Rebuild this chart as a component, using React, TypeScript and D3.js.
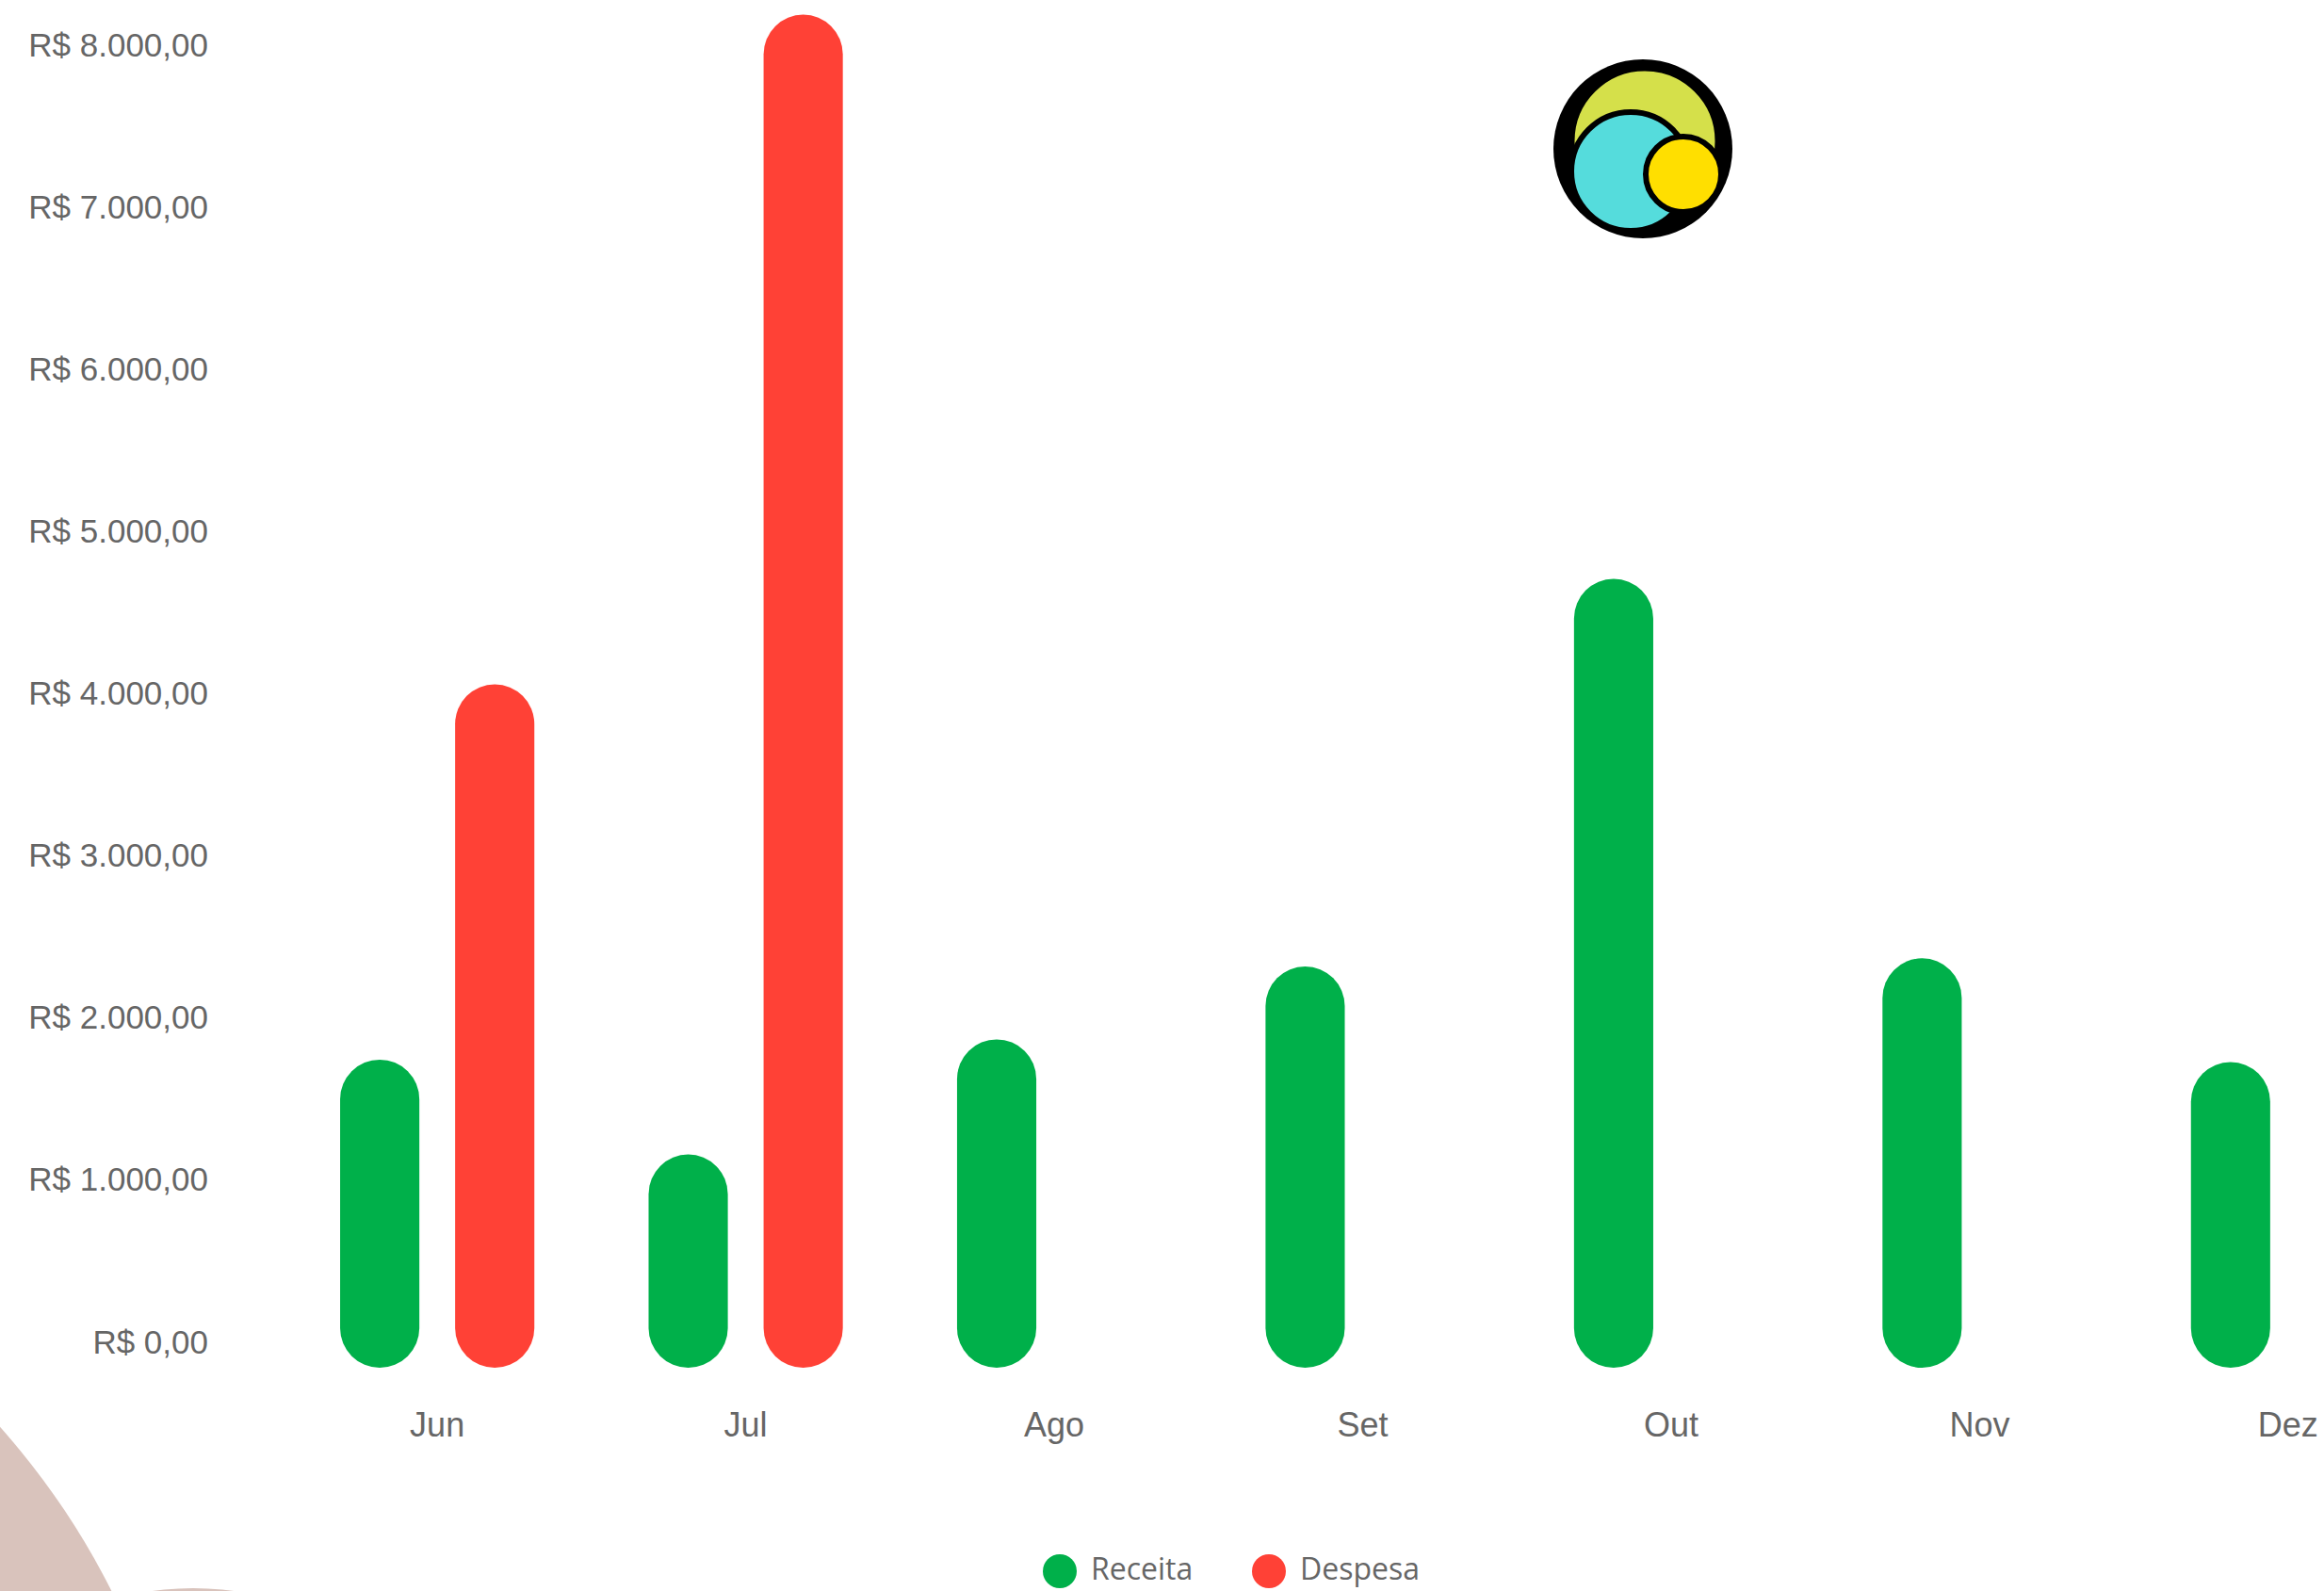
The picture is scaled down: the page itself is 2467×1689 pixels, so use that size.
import React, { useEffect } from "react";
import * as d3 from "d3";

const months = ["Jun", "Jul", "Ago", "Set", "Out", "Nov", "Dez"];
const seriesNames = ["Receita", "Despesa"];
const receita = [1575, 990, 1700, 2150, 4540, 2200, 1560];
const despesa = [3890, 8020, 0, 0, 0, 0, 0];
const yTicks = [0, 1000, 2000, 3000, 4000, 5000, 6000, 7000, 8000];
const seriesColors = ["#00b04a", "#ff4136"];

const W = 2467;
const H = 1689;

const brLocale = d3.formatLocale({
  decimal: ",",
  thousands: ".",
  grouping: [3],
  currency: ["R$ ", ""],
});
const fmt = brLocale.format("$,.2f");

export default function App() {
  useEffect(() => {
    document.body.style.margin = "0";
  }, []);

  const y = d3.scaleLinear().domain([0, 8000]).range([1424, 47]);
  const x = d3
    .scaleBand<string>()
    .domain(months)
    .range([342, 2551])
    .paddingInner(0.254)
    .paddingOuter(0);
  const xSub = d3
    .scaleBand<string>()
    .domain(seriesNames)
    .range([0, x.bandwidth()])
    .paddingInner(0.311)
    .paddingOuter(0.156);
  const bw = xSub.bandwidth();
  const r = bw / 2;
  const ext = 28;

  const values = [receita, despesa];
  const bars: { key: string; x: number; y: number; h: number; color: string }[] = [];
  seriesNames.forEach((s, si) => {
    months.forEach((m, mi) => {
      const v = values[si][mi];
      if (v > 0) {
        const top = y(v) - ext;
        const bottom = y(0) + ext;
        bars.push({
          key: s + m,
          x: (x(m) as number) + (xSub(s) as number),
          y: top,
          h: bottom - top,
          color: seriesColors[si],
        });
      }
    });
  });

  const textColor = "#666666";

  return (
    <svg
      width={W}
      height={H}
      style={{ position: "absolute", left: 0, top: 0, background: "#ffffff" }}
    >
      {/* background decorative shapes */}
      <circle cx={-600} cy={2050} r={804} fill="#d9c3bc" />
      <circle cx={205} cy={2000} r={314} fill="#d9c3bc" />

      {/* y axis labels */}
      <g fontFamily="'Liberation Sans', Arial, sans-serif" fontSize={35} fill={textColor}>
        {yTicks.map((t) => (
          <text key={t} x={221} y={y(t)} textAnchor="end" dominantBaseline="central">
            {fmt(t)}
          </text>
        ))}
      </g>

      {/* bars */}
      <g>
        {bars.map((b) => (
          <rect key={b.key} x={b.x} y={b.y} width={bw} height={b.h} rx={r} ry={r} fill={b.color} />
        ))}
      </g>

      {/* x axis labels */}
      <g fontFamily="'Liberation Sans', Arial, sans-serif" fontSize={36} fill={textColor}>
        {months.map((m) => (
          <text
            key={m}
            x={(x(m) as number) + x.bandwidth() / 2}
            y={1512}
            textAnchor="middle"
            dominantBaseline="central"
          >
            {m}
          </text>
        ))}
      </g>

      {/* legend */}
      <g fontFamily="'Open Sans', 'Noto Sans', sans-serif" fontSize={32} fill={textColor}>
        <circle cx={1125} cy={1668} r={18} fill={seriesColors[0]} />
        <text x={1158} y={1664} dominantBaseline="central">
          {seriesNames[0]}
        </text>
        <circle cx={1347} cy={1668} r={18} fill={seriesColors[1]} />
        <text x={1380} y={1664} dominantBaseline="central">
          {seriesNames[1]}
        </text>
      </g>

      {/* logo */}
      <g>
        <circle cx={1744} cy={158} r={95} fill="#000" />
        <circle cx={1746} cy={150} r={77} fill="#d5e04a" stroke="#000" strokeWidth={5} />
        <circle cx={1731} cy={182} r={63} fill="#55dcdc" stroke="#000" strokeWidth={6} />
        <circle cx={1787} cy={185} r={40} fill="#ffdf00" stroke="#000" strokeWidth={6} />
      </g>
    </svg>
  );
}
